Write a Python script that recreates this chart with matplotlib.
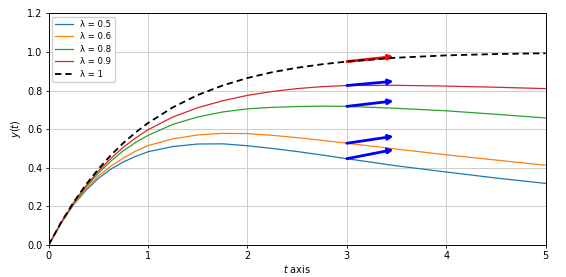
import matplotlib
matplotlib.use("Agg")
import matplotlib.pyplot as plt

t = [0, 0.125, 0.25, 0.375, 0.5, 0.625, 0.75, 0.875, 1.0, 1.25, 1.5, 1.75, 2.0,
     2.25, 2.5, 2.75, 3.0, 3.5, 4.0, 4.5, 5.0]
y_05 = [0, 0.113, 0.208, 0.283, 0.345, 0.393, 0.430, 0.459, 0.483, 0.510, 0.523, 0.524, 0.514,
        0.500, 0.484, 0.466, 0.447, 0.410, 0.378, 0.347, 0.319]
y_06 = [0, 0.114, 0.211, 0.290, 0.357, 0.408, 0.450, 0.486, 0.515, 0.550, 0.570, 0.578, 0.577,
        0.568, 0.556, 0.542, 0.527, 0.497, 0.467, 0.440, 0.413]
y_08 = [0, 0.115, 0.216, 0.300, 0.372, 0.434, 0.488, 0.531, 0.568, 0.625, 0.663, 0.689, 0.705,
        0.713, 0.717, 0.719, 0.718, 0.708, 0.695, 0.677, 0.658]
y_09 = [0, 0.116, 0.219, 0.306, 0.383, 0.448, 0.506, 0.554, 0.597, 0.663, 0.711, 0.747, 0.775,
        0.795, 0.810, 0.820, 0.826, 0.827, 0.823, 0.817, 0.810]
y_10 = [0, 0.1175, 0.221, 0.313, 0.393, 0.465, 0.528, 0.583, 0.632, 0.713, 0.777, 0.826, 0.865,
        0.895, 0.918, 0.936, 0.950, 0.970, 0.982, 0.989, 0.993]

series = [("λ = 0.5", y_05, "#1f77b4"), ("λ = 0.6", y_06, "#ff7f0e"),
          ("λ = 0.8", y_08, "#2ca02c"), ("λ = 0.9", y_09, "#d62728")]

# arrows: start at t=3 on each curve
arrow_t0 = 3.0
arrow_y0 = [0.447, 0.527, 0.718, 0.826, 0.950]
arrow_dt = [0.47, 0.47, 0.47, 0.47, 0.47]
arrow_dy = [0.047, 0.036, 0.028, 0.022, 0.026]
arrow_colors = ["blue", "blue", "blue", "blue", "red"]

plt.rcParams['font.size'] = 7
fig = plt.figure(figsize=(5.66, 2.77), dpi=100)
ax = fig.add_axes([0.086, 0.1155, 0.878, 0.8365])

for lab, ys, c in series:
    ax.plot(t, ys, color=c, lw=0.9, label=lab, zorder=3)

for y0, dt, dy, c in zip(arrow_y0, arrow_dt, arrow_dy, arrow_colors):
    ax.annotate("", xy=(arrow_t0 + dt, y0 + dy), xytext=(arrow_t0, y0),
                arrowprops=dict(arrowstyle="-|>", color=c, lw=2.0,
                                mutation_scale=7, shrinkA=0, shrinkB=0),
                zorder=4 if c == "blue" else 2)

ax.plot(t, y_10, color="black", lw=1.3, ls=(0, (3.5, 2.2)), label="λ = 1", zorder=5)

ax.set_xlim(0, 5)
ax.set_ylim(0, 1.2)
ax.set_xticks([0, 1, 2, 3, 4, 5])
ax.set_yticks([0.0, 0.2, 0.4, 0.6, 0.8, 1.0, 1.2])
ax.set_yticklabels(["0.0", "0.2", "0.4", "0.6", "0.8", "1.0", "1.2"])
ax.grid(True, color="#cccccc", lw=0.7)
ax.set_axisbelow(True)
ax.tick_params(length=2.5, width=0.6, pad=2)
for s in ax.spines.values():
    s.set_linewidth(0.7)
ax.set_xlabel("$t$ axis", labelpad=1)
ax.set_ylabel("$y(t)$", labelpad=3)
ax.legend(loc="upper left", fontsize=6.1, handlelength=2.1, labelspacing=0.4,
          borderaxespad=0.4, framealpha=0.9)

fig.savefig("out.png", dpi=100)
